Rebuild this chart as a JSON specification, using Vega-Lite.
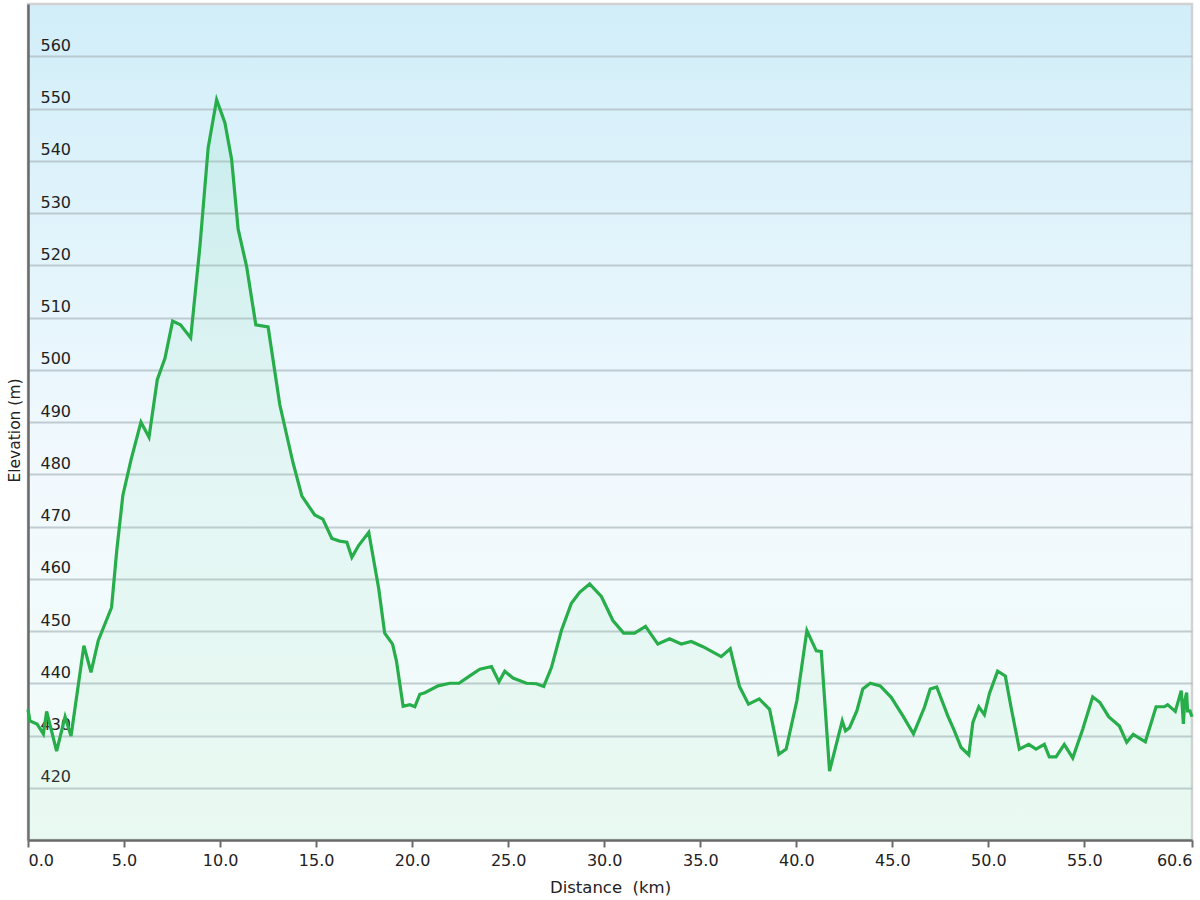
{
  "$schema": "https://vega.github.io/schema/vega-lite/v6.json",
  "autosize": {"type": "none"},
  "width": 1164,
  "height": 836,
  "padding": {"left": 28, "top": 4, "right": 8, "bottom": 60},
  "background": "#ffffff",
  "config": {
    "view": {
      "stroke": "#d2d2d2",
      "strokeWidth": 2.5,
      "fill": {
        "gradient": "linear",
        "x1": 0, "y1": 0, "x2": 0, "y2": 1,
        "stops": [
          {"offset": 0, "color": "#d1eef9"},
          {"offset": 0.55, "color": "#f1f9fe"},
          {"offset": 1, "color": "#f2fcf8"}
        ]
      }
    },
    "axis": {
      "labelFont": "DejaVu Sans",
      "titleFont": "DejaVu Sans",
      "labelColor": "#222222",
      "titleColor": "#222222",
      "titleFontWeight": "normal"
    }
  },
  "data": {
    "values": [
      {"d": 0.00, "e": 435.0}, {"d": 0.10, "e": 432.8}, {"d": 0.47, "e": 432.2}, {"d": 0.80, "e": 430.3},
      {"d": 0.97, "e": 434.6}, {"d": 1.49, "e": 427.0}, {"d": 1.93, "e": 433.6}, {"d": 2.24, "e": 429.9},
      {"d": 2.91, "e": 447.2}, {"d": 3.28, "e": 442.1}, {"d": 3.66, "e": 448.2}, {"d": 4.35, "e": 454.5},
      {"d": 4.62, "e": 465.4}, {"d": 4.94, "e": 476.0}, {"d": 5.36, "e": 482.7}, {"d": 5.88, "e": 490.0},
      {"d": 6.30, "e": 487.1}, {"d": 6.73, "e": 498.1}, {"d": 7.13, "e": 502.2}, {"d": 7.53, "e": 509.3},
      {"d": 7.94, "e": 508.6}, {"d": 8.47, "e": 506.1}, {"d": 8.95, "e": 523.6}, {"d": 9.38, "e": 542.5},
      {"d": 9.82, "e": 551.7}, {"d": 10.25, "e": 547.3}, {"d": 10.60, "e": 540.3}, {"d": 10.94, "e": 526.9},
      {"d": 11.38, "e": 519.8}, {"d": 11.86, "e": 508.6}, {"d": 12.50, "e": 508.2}, {"d": 13.11, "e": 493.3},
      {"d": 13.79, "e": 482.3}, {"d": 14.26, "e": 475.8}, {"d": 14.93, "e": 472.2}, {"d": 15.35, "e": 471.4},
      {"d": 15.82, "e": 467.7}, {"d": 16.23, "e": 467.2}, {"d": 16.60, "e": 467.0}, {"d": 16.86, "e": 464.1},
      {"d": 17.22, "e": 466.4}, {"d": 17.74, "e": 468.9}, {"d": 18.26, "e": 458.1}, {"d": 18.57, "e": 449.6},
      {"d": 18.98, "e": 447.5}, {"d": 19.18, "e": 444.3}, {"d": 19.53, "e": 435.6}, {"d": 19.88, "e": 435.9},
      {"d": 20.14, "e": 435.5}, {"d": 20.40, "e": 437.9}, {"d": 20.66, "e": 438.2}, {"d": 21.35, "e": 439.5},
      {"d": 21.96, "e": 440.0}, {"d": 22.44, "e": 440.0}, {"d": 23.00, "e": 441.4}, {"d": 23.52, "e": 442.7},
      {"d": 24.13, "e": 443.2}, {"d": 24.52, "e": 440.3}, {"d": 24.82, "e": 442.3}, {"d": 25.25, "e": 441.0},
      {"d": 25.95, "e": 440.0}, {"d": 26.47, "e": 439.9}, {"d": 26.85, "e": 439.4}, {"d": 27.25, "e": 443.0},
      {"d": 27.77, "e": 450.1}, {"d": 28.29, "e": 455.3}, {"d": 28.72, "e": 457.4}, {"d": 29.24, "e": 459.0},
      {"d": 29.85, "e": 456.6}, {"d": 30.45, "e": 452.0}, {"d": 31.01, "e": 449.6}, {"d": 31.58, "e": 449.6},
      {"d": 32.15, "e": 450.9}, {"d": 32.79, "e": 447.5}, {"d": 33.40, "e": 448.5}, {"d": 34.01, "e": 447.5},
      {"d": 34.53, "e": 448.0}, {"d": 35.14, "e": 447.0}, {"d": 36.09, "e": 445.1}, {"d": 36.56, "e": 446.6},
      {"d": 37.04, "e": 439.4}, {"d": 37.51, "e": 436.0}, {"d": 38.07, "e": 437.0}, {"d": 38.61, "e": 435.0},
      {"d": 39.09, "e": 426.4}, {"d": 39.47, "e": 427.4}, {"d": 40.03, "e": 436.7}, {"d": 40.55, "e": 450.1},
      {"d": 41.04, "e": 446.2}, {"d": 41.30, "e": 446.1}, {"d": 41.73, "e": 423.2}, {"d": 42.39, "e": 432.8},
      {"d": 42.56, "e": 430.9}, {"d": 42.77, "e": 431.5}, {"d": 43.15, "e": 434.7}, {"d": 43.46, "e": 438.9},
      {"d": 43.85, "e": 440.0}, {"d": 44.37, "e": 439.5}, {"d": 44.94, "e": 437.3}, {"d": 45.54, "e": 433.8},
      {"d": 46.10, "e": 430.3}, {"d": 46.67, "e": 435.4}, {"d": 46.97, "e": 438.9}, {"d": 47.31, "e": 439.3},
      {"d": 47.88, "e": 433.8}, {"d": 48.23, "e": 430.9}, {"d": 48.58, "e": 427.7}, {"d": 48.98, "e": 426.3},
      {"d": 49.19, "e": 432.5}, {"d": 49.50, "e": 435.5}, {"d": 49.79, "e": 434.0}, {"d": 50.05, "e": 438.0},
      {"d": 50.48, "e": 442.3}, {"d": 50.88, "e": 441.4}, {"d": 51.18, "e": 435.4}, {"d": 51.61, "e": 427.4},
      {"d": 52.10, "e": 428.3}, {"d": 52.48, "e": 427.4}, {"d": 52.91, "e": 428.3}, {"d": 53.17, "e": 425.9},
      {"d": 53.52, "e": 425.9}, {"d": 53.95, "e": 428.3}, {"d": 54.39, "e": 425.7}, {"d": 54.91, "e": 431.2},
      {"d": 55.43, "e": 437.4}, {"d": 55.81, "e": 436.3}, {"d": 56.26, "e": 433.6}, {"d": 56.82, "e": 431.8},
      {"d": 57.20, "e": 428.7}, {"d": 57.54, "e": 430.2}, {"d": 58.17, "e": 428.8}, {"d": 58.73, "e": 435.5},
      {"d": 59.16, "e": 435.5}, {"d": 59.33, "e": 435.9}, {"d": 59.73, "e": 434.6}, {"d": 60.04, "e": 438.6},
      {"d": 60.15, "e": 432.2}, {"d": 60.22, "e": 436.6}, {"d": 60.32, "e": 438.2}, {"d": 60.37, "e": 434.7},
      {"d": 60.49, "e": 434.7}, {"d": 60.60, "e": 433.6}
    ]
  },
  "encoding": {
    "x": {
      "field": "d",
      "type": "quantitative",
      "scale": {"domain": [0, 60.6], "nice": false, "zero": false},
      "axis": {
        "title": "Distance\u00a0 (km)",
        "titleFontSize": 16.5,
        "titlePadding": 11,
        "values": [0, 5, 10, 15, 20, 25, 30, 35, 40, 45, 50, 55, 60.6],
        "format": ".1f",
        "labelFlush": true,
        "labelFontSize": 16,
        "labelPadding": 5,
        "grid": false,
        "domainColor": "#6a6a6a",
        "domainWidth": 2.5,
        "tickColor": "#6a6a6a",
        "tickWidth": 2,
        "tickSize": 7
      }
    },
    "y": {
      "field": "e",
      "type": "quantitative",
      "scale": {"domain": [410, 570], "nice": false, "zero": false},
      "axis": {
        "title": "Elevation (m)",
        "titleFontSize": 15.5,
        "titleX": -14,
        "titleY": 426,
        "titleAngle": -90,
        "titleBaseline": "middle",
        "titleAlign": "center",
        "values": [420, 430, 440, 450, 460, 470, 480, 490, 500, 510, 520, 530, 540, 550, 560],
        "labelFontSize": 16,
        "labelAlign": "left",
        "labelBaseline": "alphabetic",
        "labelOffset": -6,
        "labelPadding": -12,
        "ticks": false,
        "tickSize": 0,
        "grid": true,
        "gridColor": "#b0bcc1",
        "gridWidth": 2,
        "gridOpacity": 0.75,
        "domainColor": "#6a6a6a",
        "domainWidth": 2.5
      }
    }
  },
  "layer": [
    {
      "mark": {
        "type": "area",
        "fill": {
          "gradient": "linear",
          "x1": 0, "y1": 0, "x2": 0, "y2": 1,
          "stops": [
            {"offset": 0, "color": "rgba(110,215,160,0.14)"},
            {"offset": 1, "color": "rgba(140,225,175,0.09)"}
          ]
        },
        "stroke": null
      },
      "encoding": {"y2": {"datum": 410}}
    },
    {
      "mark": {"type": "line", "color": "#27ae4a", "strokeWidth": 3.2, "strokeJoin": "miter"}
    }
  ]
}
